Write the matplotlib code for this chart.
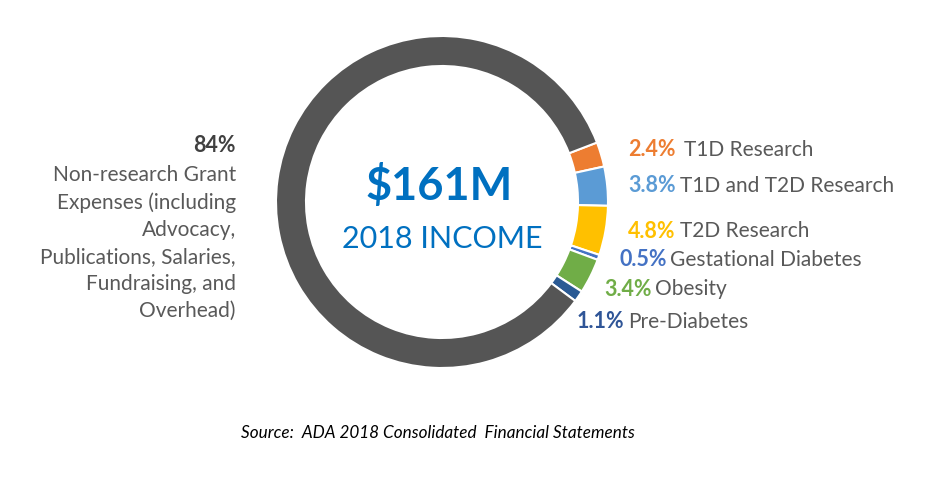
import matplotlib.pyplot as plt

plt.rcParams['font.family'] = ['Lato', 'DejaVu Sans']

# income split, clockwise from the T1D slice
names = ['T1D Research', 'T1D and T2D Research', 'T2D Research',
         'Gestational Diabetes', 'Obesity', 'Pre-Diabetes',
         'Non-research Grant Expenses']
shares = [2.4, 3.8, 4.8, 0.5, 3.4, 1.1, 84.0]
colors = ['#ED7D31', '#5B9BD5', '#FFC000', '#4472C4', '#70AD47', '#2A5A94', '#555555']
pct_colors = ['#ED7D31', '#5B9BD5', '#FFC000', '#4472C4', '#70AD47', '#2F5597']

# label anchors in pixels (x, y from top) for the small slices
label_pos = [(628, 150), (628, 186), (628, 231), (619, 260), (604, 289), (577, 322)]

W, H = 934, 493
fig = plt.figure(figsize=(W / 100, H / 100), dpi=100)
ax = fig.add_axes([0, 0, 1, 1])
ax.set_xlim(0, W)
ax.set_ylim(0, H)
ax.set_aspect('equal')

cx, cy, R = 442, H - 202, 166
ax.pie(shares, colors=colors, startangle=21, counterclock=False,
       center=(cx, cy), radius=R, frame=True,
       wedgeprops=dict(width=30, edgecolor='white', linewidth=1.5))
ax.set_xlim(0, W)
ax.set_ylim(0, H)
ax.axis('off')

gray = '#595959'
for i, (x, y) in enumerate(label_pos):
    t = ax.text(x, H - y, f'{shares[i]}%', color=pct_colors[i], fontsize=15.5,
                fontweight='bold', ha='left', va='center')
    gap = 8 if i == 0 else 4
    ax.annotate(names[i], xy=(1, 0.5), xycoords=t, xytext=(gap, 0),
                textcoords='offset pixels', ha='left', va='center',
                color=gray, fontsize=15)

# big slice label on the left
ax.text(236, H - 146, f'{shares[-1]:.0f}%', color='#404040', fontsize=15.5,
        fontweight='bold', ha='right', va='center')
ax.text(236, H - 165, 'Non-research Grant\nExpenses (including\nAdvocacy,\n'
        'Publications, Salaries,\nFundraising, and\nOverhead)',
        color=gray, fontsize=15, ha='right', va='top', linespacing=1.44)

# centre text
ax.text(439, H - 186, '$161M', color='#0070C0', fontsize=32.5, fontweight='bold',
        ha='center', va='center')
ax.text(442, H - 239, '2018 INCOME', color='#0070C0', fontsize=22,
        ha='center', va='center')

ax.text(438, H - 433, 'Source:  ADA 2018 Consolidated  Financial Statements',
        color='black', fontsize=12.3, style='italic', ha='center', va='center')

fig.savefig('out.png', dpi=100)
